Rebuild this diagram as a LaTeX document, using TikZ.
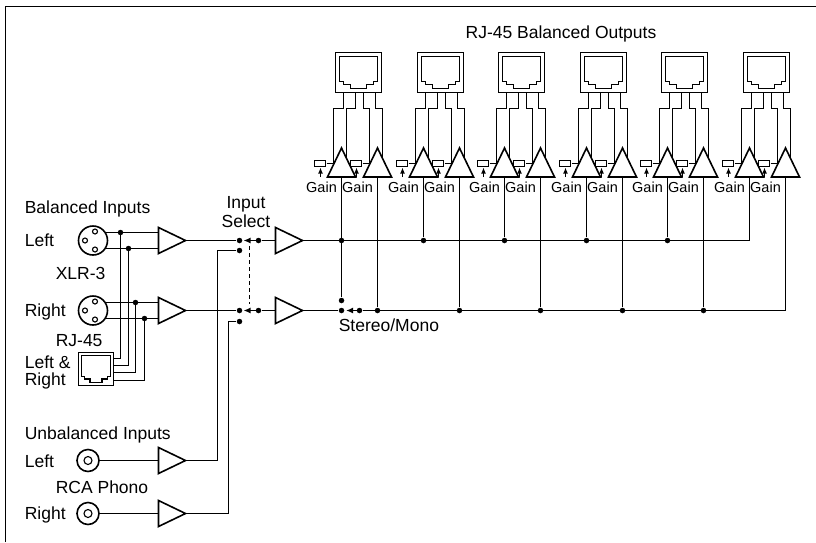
\documentclass[tikz,border=0pt]{standalone}
\usepackage{fontspec}
\setmainfont{Liberation Sans}
\usetikzlibrary{arrows.meta}
\begin{document}
\begin{tikzpicture}[x=1pt,y=-1pt,line width=1.6pt,
  lbl/.style={font=\fontsize{17.5}{20}\selectfont,inner sep=0pt},
  gainlbl/.style={font=\fontsize{14.5}{16}\selectfont,inner sep=0pt,anchor=base},
  jdot/.style={circle,fill,inner sep=0pt,minimum size=5.5pt},
  swarm/.style={-{Latex[length=7pt,width=6pt]}},
  ampright/.pic={\draw[fill=white] (0,-13) -- (27,0) -- (0,13) -- cycle;
     \coordinate (-in) at (0,0); \coordinate (-out) at (27,0);},
  ampup/.pic={\draw[fill=white] (-14,29) -- (0,0) -- (14,29) -- cycle;
     \coordinate (-in) at (0,29);},
  rjjack/.pic={\draw[fill=white] (-23,-20) rectangle (23,20);
     \draw[line width=1.2pt] (-19,-16) -- (-19,9) -- (-15,9) -- (-15,12) -- (-8,12) -- (-8,16) -- (8,16) -- (8,12) -- (15,12) -- (15,9) -- (19,9) -- (19,-16) -- cycle;},
]
\useasboundingbox (0,0) rectangle (816,542);
% frame
\draw[line width=1.8pt] (5.5,542) -- (5.5,6.5) -- (816,6.5);

% ---------- labels ----------
\node[lbl,anchor=base] at (561,38) {RJ-45 Balanced Outputs};
\node[lbl,anchor=base west] at (24,213) {Balanced Inputs};
\node[lbl,anchor=base west] at (24,246) {Left};
\node[lbl,anchor=base west] at (55,279) {XLR-3};
\node[lbl,anchor=base west] at (24,316) {Right};
\node[lbl,anchor=base west] at (55,346) {RJ-45};
\node[lbl,anchor=base west] at (24,368) {Left \&};
\node[lbl,anchor=base west] at (24,385) {Right};
\node[lbl,anchor=base west] at (24,439) {Unbalanced Inputs};
\node[lbl,anchor=base west] at (24,467) {Left};
\node[lbl,anchor=base west] at (55,493) {RCA Phono};
\node[lbl,anchor=base west] at (24,519) {Right};
\node[lbl,anchor=base] at (246,208) {Input};
\node[lbl,anchor=base] at (246,227) {Select};
\node[lbl,anchor=base west] at (338,331) {Stereo/Mono};

% ---------- balanced inputs ----------
\draw (93,232.5) -- (158.5,232.5);
\draw (93,248.5) -- (158.5,248.5);
\draw (93,302.5) -- (158.5,302.5);
\draw (93,318.5) -- (158.5,318.5);
\node[circle,draw,fill=white,minimum size=29pt,inner sep=0pt] (xlrL) at (93,240.5) {};
\node[circle,draw,fill=white,minimum size=29pt,inner sep=0pt] (xlrR) at (93,310.5) {};
\draw[line width=1.1pt] (95,231.5) circle (2.5) (85,240.5) circle (2.5) (95,249.5) circle (2.5);
\draw[line width=1.1pt] (95,301.5) circle (2.5) (85,310.5) circle (2.5) (95,319.5) circle (2.5);
\pic (ampBL) at (158.5,240.5) {ampright};
\pic (ampBR) at (158.5,310.5) {ampright};
\draw (113.5,358.5) -- (120.5,358.5) -- (120.5,232.5);
\draw (113.5,365.5) -- (128.5,365.5) -- (128.5,248.5);
\draw (113.5,372.5) -- (135.5,372.5) -- (135.5,302.5);
\draw (113.5,380.5) -- (144.5,380.5) -- (144.5,318.5);
\node[jdot] at (120.5,232.5) {};
\node[jdot] at (128.5,248.5) {};
\node[jdot] at (135.5,302.5) {};
\node[jdot] at (144.5,318.5) {};
\pic[xscale=0.761,yscale=0.825] (rjin) at (96,369) {rjjack};

% ---------- unbalanced inputs ----------
\draw (88,460.5) -- (158.5,460.5);
\draw (88,513.5) -- (158.5,513.5);
\draw[fill=white] (88,460.5) circle (11);
\draw[line width=1.1pt] (88,460.5) circle (4);
\draw[fill=white] (88,513.5) circle (11);
\draw[line width=1.1pt] (88,513.5) circle (4);
\pic (ampUL) at (158.5,460.5) {ampright};
\pic (ampUR) at (158.5,513.5) {ampright};

% ---------- input select ----------
\node[jdot] (sL1) at (239.5,240.5) {};
\node[jdot] (sL2) at (239.5,250.5) {};
\node[jdot] (sLc) at (258.5,240.5) {};
\node[jdot] (sR1) at (239.5,310.5) {};
\node[jdot] (sR2) at (239.5,321.5) {};
\node[jdot] (sRc) at (258.5,310.5) {};
\draw (ampBL-out) -- (sL1);
\draw (ampUL-out) -| (217.5,250.5) -- (sL2);
\draw (ampBR-out) -- (sR1);
\draw (ampUR-out) -| (228.5,321.5) -- (sR2);
\draw[swarm] (sLc.center) -- (243.5,240.5);
\draw[swarm] (sRc.center) -- (243.5,310.5);
\draw[dash pattern=on 4pt off 3pt] (249.5,246) -- (249.5,304);
\pic (ampSL) at (275.5,240.5) {ampright};
\pic (ampSR) at (275.5,310.5) {ampright};
\draw (sLc) -- (ampSL-in);
\draw (sRc) -- (ampSR-in);

% ---------- stereo/mono and buses ----------
\node[jdot] (m1) at (341.5,300.5) {};
\node[jdot] (m2) at (341.5,310.5) {};
\node[jdot] (mc) at (359.5,310.5) {};
\node[jdot] (m0) at (341.5,240.5) {};
\draw (ampSR-out) -- (m2);
\draw[swarm] (mc.center) -- (346,310.5);
\draw (mc) -- (785.5,310.5) -- (785.5,177);
\draw (ampSL-out) -- (749.5,240.5) -- (749.5,177);
\draw (341.5,177) -- (m1);

% ---------- output modules ----------
\foreach \aa [count=\i from 0] in {341.5,423.5,504.5,586.5,667.5,749.5}{
  \pgfmathsetmacro\c{\aa+17}
  \pgfmathsetmacro\ab{\aa+36}
  % leads from jack to amps
  \draw ({\c-15},92.5) -- ({\c-15},108.5) -- ({\aa-8},108.5) -- ({\aa-8},170);
  \draw ({\c-3},92.5) -- ({\c-3},108.5) -- ({\aa+5},108.5) -- ({\aa+5},170);
  \draw ({\c+5},92.5) -- ({\c+5},108.5) -- ({\ab-8},108.5) -- ({\ab-8},170);
  \draw ({\c+17},92.5) -- ({\c+17},108.5) -- ({\ab+5},108.5) -- ({\ab+5},170);
  \pic (out\i) at (\c,72.5) {rjjack};
  \foreach \a in {\aa,\ab}{
    \draw ({\a-15},163.5) -- (\a,163.5);
    \draw[line width=1.2pt,fill=white] ({\a-27},160.5) rectangle ({\a-16},166.5);
    \draw[line width=1.2pt,-{Latex[length=6pt,width=5pt]}] ({\a-21},177) -- ({\a-21},167.5);
    \pic at (\a,148) {ampup};
    \node[gainlbl] at ({\a-20},192) {Gain};
  }
}
\foreach \aa [count=\i] in {423.5,504.5,586.5,667.5}{
  \node[jdot] (u\i) at (\aa,240.5) {};
  \draw (\aa,177) -- (u\i);
}
\foreach \ab [count=\i] in {377.5,459.5,540.5,622.5,703.5}{
  \node[jdot] (w\i) at (\ab,310.5) {};
  \draw (\ab,177) -- (w\i);
}
\end{tikzpicture}
\end{document}
